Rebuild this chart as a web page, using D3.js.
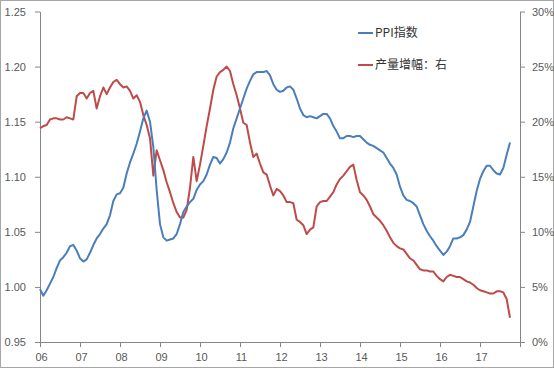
<!DOCTYPE html>
<html>
<head>
<meta charset="utf-8">
<script src="https://cdn.jsdelivr.net/npm/d3@7"></script>
<style>
  html, body { margin: 0; padding: 0; background: #fff; }
  svg { display: block; }
</style>
</head>
<body>
<script>
// Monthly data, Jan 2006 – Oct 2017
const yearLabels = ["06","07","08","09","10","11","12","13","14","15","16","17"];
const seriesNames = ["PPI指数", "产量增幅：右"];
const ppiIndex = [
  0.998, 0.992, 0.997, 1.003, 1.009, 1.017, 1.024, 1.027, 1.031, 1.037, 1.038, 1.033,
  1.026, 1.023, 1.025, 1.031, 1.038, 1.044, 1.048, 1.053, 1.057, 1.065, 1.078, 1.084,
  1.085, 1.090, 1.103, 1.113, 1.121, 1.130, 1.141, 1.153, 1.160, 1.150, 1.127, 1.088,
  1.057, 1.045, 1.042, 1.043, 1.044, 1.048, 1.057, 1.068, 1.073, 1.077, 1.080, 1.088,
  1.093, 1.096, 1.102, 1.111, 1.118, 1.117, 1.112, 1.116, 1.122, 1.131, 1.144, 1.153,
  1.162, 1.171, 1.180, 1.187, 1.193, 1.195, 1.195, 1.195, 1.196, 1.192, 1.184, 1.179,
  1.177, 1.178, 1.181, 1.182, 1.179, 1.171, 1.162, 1.156, 1.154, 1.155, 1.154, 1.153,
  1.155, 1.157, 1.157, 1.153, 1.146, 1.141, 1.135, 1.135, 1.137, 1.137, 1.136, 1.137,
  1.137, 1.134, 1.131, 1.129, 1.128, 1.126, 1.124, 1.122, 1.117, 1.112, 1.108, 1.102,
  1.091, 1.083, 1.079, 1.078, 1.076, 1.073, 1.065, 1.057, 1.051, 1.046, 1.042, 1.037,
  1.033, 1.029, 1.032, 1.037, 1.044, 1.044, 1.045, 1.047, 1.052, 1.059, 1.073, 1.087,
  1.098, 1.105, 1.110, 1.110, 1.106, 1.103, 1.102, 1.108, 1.120, 1.131
];
const outputGrowth = [
  19.4, 19.6, 19.7, 20.2, 20.3, 20.3, 20.2, 20.2, 20.4, 20.3, 20.2, 22.3,
  22.6, 22.6, 22.1, 22.6, 22.8, 21.2, 22.3, 23.1, 22.5, 23.1, 23.6, 23.8,
  23.4, 23.1, 23.2, 22.8, 22.1, 22.4, 21.8, 20.6, 19.7, 18.5, 15.1, 17.4,
  16.5, 15.6, 14.5, 13.6, 12.6, 11.8, 11.3, 11.3, 12.0, 14.0, 16.8, 14.6,
  16.1, 17.8, 19.6, 21.2, 22.9, 24.1, 24.5, 24.7, 25.0, 24.6, 23.4, 22.4,
  21.2, 19.9, 19.7, 18.1, 16.8, 17.1, 16.2, 15.4, 15.2, 14.2, 13.3, 13.9,
  13.7, 13.3, 12.7, 12.7, 12.6, 11.1, 10.9, 10.6, 9.8, 10.2, 10.4, 12.3,
  12.7, 12.8, 12.8, 13.2, 13.6, 14.3, 14.8, 15.1, 15.5, 15.9, 16.1, 14.7,
  13.6, 13.3, 12.9, 12.3, 11.6, 11.3, 11.0, 10.6, 10.1, 9.5, 9.0, 8.7,
  8.5, 8.4, 8.0, 7.6, 7.4, 7.0, 6.6, 6.5, 6.5, 6.4, 6.4, 6.0,
  5.7, 5.5, 5.9, 6.1, 6.0, 5.9, 5.9, 5.7, 5.5, 5.4, 5.2, 4.9,
  4.7, 4.6, 4.5, 4.4, 4.4, 4.6, 4.6, 4.5, 3.9, 2.2
];
const leftTicks = [0.95, 1.00, 1.05, 1.10, 1.15, 1.20, 1.25];
const rightTicks = [0, 5, 10, 15, 20, 25, 30];

const W = 554, H = 368;
const m = { left: 40, right: 34, top: 11.5, bottom: 26 };
const colors = ["#4a7ebb", "#be4b48"];
const axisColor = "#868686";
const textColor = "#595959";
const tickFont = "'Liberation Sans', Arial, sans-serif";

const svg = d3.select("body").append("svg").attr("width", W).attr("height", H);

svg.append("rect").attr("x", 0.5).attr("y", 0.5).attr("width", W - 1).attr("height", H - 1)
  .attr("fill", "#fff").attr("stroke", "#a6a6a6");

const x = d3.scaleLinear().domain([0, 144]).range([m.left, W - m.right]);
const yL = d3.scaleLinear().domain([0.95, 1.25]).range([H - m.bottom, m.top]);
const yR = d3.scaleLinear().domain([0, 30]).range([H - m.bottom, m.top]);

function styleAxis(g) {
  g.selectAll("path").attr("stroke", axisColor);
  g.selectAll("line").attr("stroke", axisColor);
  g.selectAll("text").attr("fill", textColor).style("font-family", tickFont).style("font-size", "11px");
}

// Left axis
svg.append("g").attr("transform", `translate(${m.left},0)`)
  .call(d3.axisLeft(yL).tickValues(leftTicks).tickFormat(d3.format(".2f")).tickSize(5).tickSizeOuter(0).tickPadding(9))
  .call(styleAxis);

// Right axis
svg.append("g").attr("transform", `translate(${W - m.right},0)`)
  .call(d3.axisRight(yR).tickValues(rightTicks).tickFormat(d => d + "%").tickSize(5).tickSizeOuter(0).tickPadding(7))
  .call(styleAxis);

// Bottom axis
const xTickVals = d3.range(0, 145, 12);
svg.append("g").attr("transform", `translate(0,${H - m.bottom})`)
  .call(d3.axisBottom(x).tickValues(xTickVals).tickFormat((d, i) => yearLabels[i] || "").tickSize(5).tickSizeOuter(0).tickPadding(6))
  .call(styleAxis)
  .call(g => g.selectAll("text").attr("dx", "1px"));

// Lines
const lineL = d3.line().x((d, i) => x(i)).y(d => yL(d));
const lineR = d3.line().x((d, i) => x(i)).y(d => yR(d));

svg.append("path").datum(outputGrowth).attr("d", lineR)
  .attr("fill", "none").attr("stroke", colors[1]).attr("stroke-width", 2).attr("stroke-linejoin", "round");
svg.append("path").datum(ppiIndex).attr("d", lineL)
  .attr("fill", "none").attr("stroke", colors[0]).attr("stroke-width", 2).attr("stroke-linejoin", "round");

// Legend
const legY = [33, 65];
seriesNames.forEach((name, i) => {
  svg.append("line").attr("x1", 358).attr("x2", 373).attr("y1", legY[i]).attr("y2", legY[i])
    .attr("stroke", colors[i]).attr("stroke-width", 2);
  svg.append("text").attr("x", 375).attr("y", legY[i]).attr("dy", "0.36em")
    .attr("fill", "#333").style("font-family", "'Noto Sans CJK SC', sans-serif").style("font-size", "12px")
    .text(name);
});
</script>
</body>
</html>
